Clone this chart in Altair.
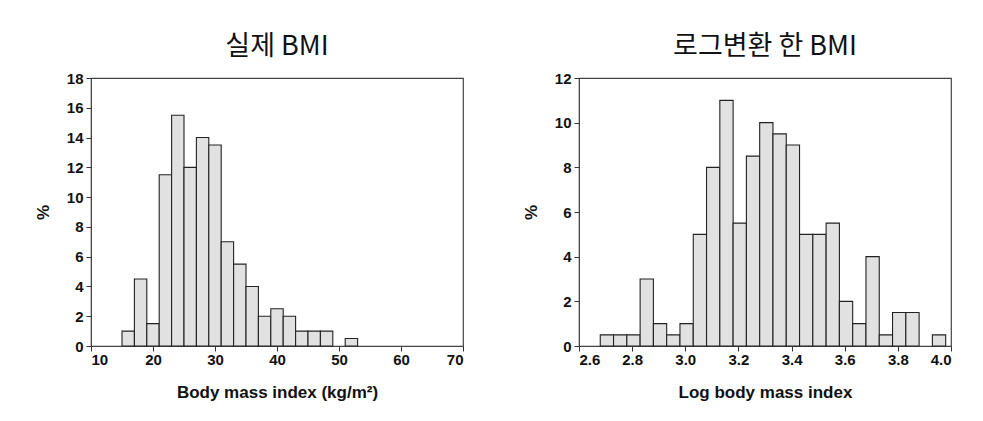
import altair as alt
import pandas as pd

# Left histogram: actual BMI (bin width 2 kg/m^2)
bmi_bin_start = [15, 17, 19, 21, 23, 25, 27, 29, 31, 33, 35, 37, 39, 41, 43, 45, 47, 49, 51]
bmi_pct = [1, 4.5, 1.5, 11.5, 15.5, 12, 14, 13.5, 7, 5.5, 4, 2, 2.5, 2, 1, 1, 1, 0, 0.5]
bmi_bin_width = 2
bmi_ticks = [10, 20, 30, 40, 50, 60, 70]
bmi_yticks = [0, 2, 4, 6, 8, 10, 12, 14, 16, 18]

# Right histogram: log BMI (bin width 0.05)
log_bin_start = [2.68, 2.73, 2.78, 2.83, 2.88, 2.93, 2.98, 3.03, 3.08, 3.13, 3.18, 3.23, 3.28,
                 3.33, 3.38, 3.43, 3.48, 3.53, 3.58, 3.63, 3.68, 3.73, 3.78, 3.83, 3.88, 3.93]
log_pct = [0.5, 0.5, 0.5, 3, 1, 0.5, 1, 5, 8, 11, 5.5, 8.5, 10, 9.5, 9, 5, 5, 5.5, 2, 1, 4,
           0.5, 1.5, 1.5, 0, 0.5]
log_bin_width = 0.05
log_ticks = [2.6, 2.8, 3.0, 3.2, 3.4, 3.6, 3.8, 4.0]
log_yticks = [0, 2, 4, 6, 8, 10, 12]

titles = ["실제 BMI", "로그변환 한 BMI"]
xtitles = ["Body mass index (kg/m²)", "Log body mass index"]

W, H = 372, 268


def hist(starts, pcts, width, xdom, xticks, ymax, yticks, xtitle, title, fmt):
    df = pd.DataFrame({"start": starts, "pct": pcts})
    df["end"] = df["start"] + width
    return (
        alt.Chart(df)
        .transform_filter("datum.pct > 0")
        .mark_bar(fill="#e1e1e1", stroke="#222222", strokeWidth=1.1, orient="vertical")
        .encode(
            x=alt.X("start:Q", scale=alt.Scale(domain=xdom, nice=False, zero=False, padding=0),
                    axis=alt.Axis(values=xticks, format=fmt, title=xtitle, labelPadding=1,
                                  titlePadding=17)),
            x2="end:Q",
            y=alt.Y("pct:Q", scale=alt.Scale(domain=[0, ymax], nice=False, padding=0),
                    axis=alt.Axis(values=yticks, title="%")),
            y2=alt.datum(0),
        )
        .properties(
            width=W, height=H,
            title=alt.TitleParams(title, font="Noto Sans CJK KR", fontSize=27,
                                  fontWeight="normal", color="#111", anchor="middle", offset=10),
        )
    )


left = hist(bmi_bin_start, bmi_pct, bmi_bin_width, [10, 70], bmi_ticks, 18, bmi_yticks,
            xtitles[0], titles[0], "d")
right = hist(log_bin_start, log_pct, log_bin_width, [2.6, 4.0], log_ticks, 12, log_yticks,
             xtitles[1], titles[1], ".1f")

chart = (
    alt.hconcat(left, right, spacing=116, bounds="flush")
    .properties(padding={"left": 25, "top": 24, "right": 5, "bottom": 5}, background="white")
    .configure_view(stroke="#444444", strokeWidth=1.2)
    .configure_axis(
        grid=False,
        labelFont="Liberation Sans", labelFontWeight="bold", labelFontSize=15, labelColor="#111",
        titleFont="Liberation Sans", titleFontWeight="bold", titleFontSize=17, titleColor="#111",
        tickSize=5, tickColor="#333", domainColor="#444", labelPadding=3,
    )
    .configure_axisY(titlePadding=14)
)

chart.save("out.html", embed_options={"renderer": "svg", "actions": False})
